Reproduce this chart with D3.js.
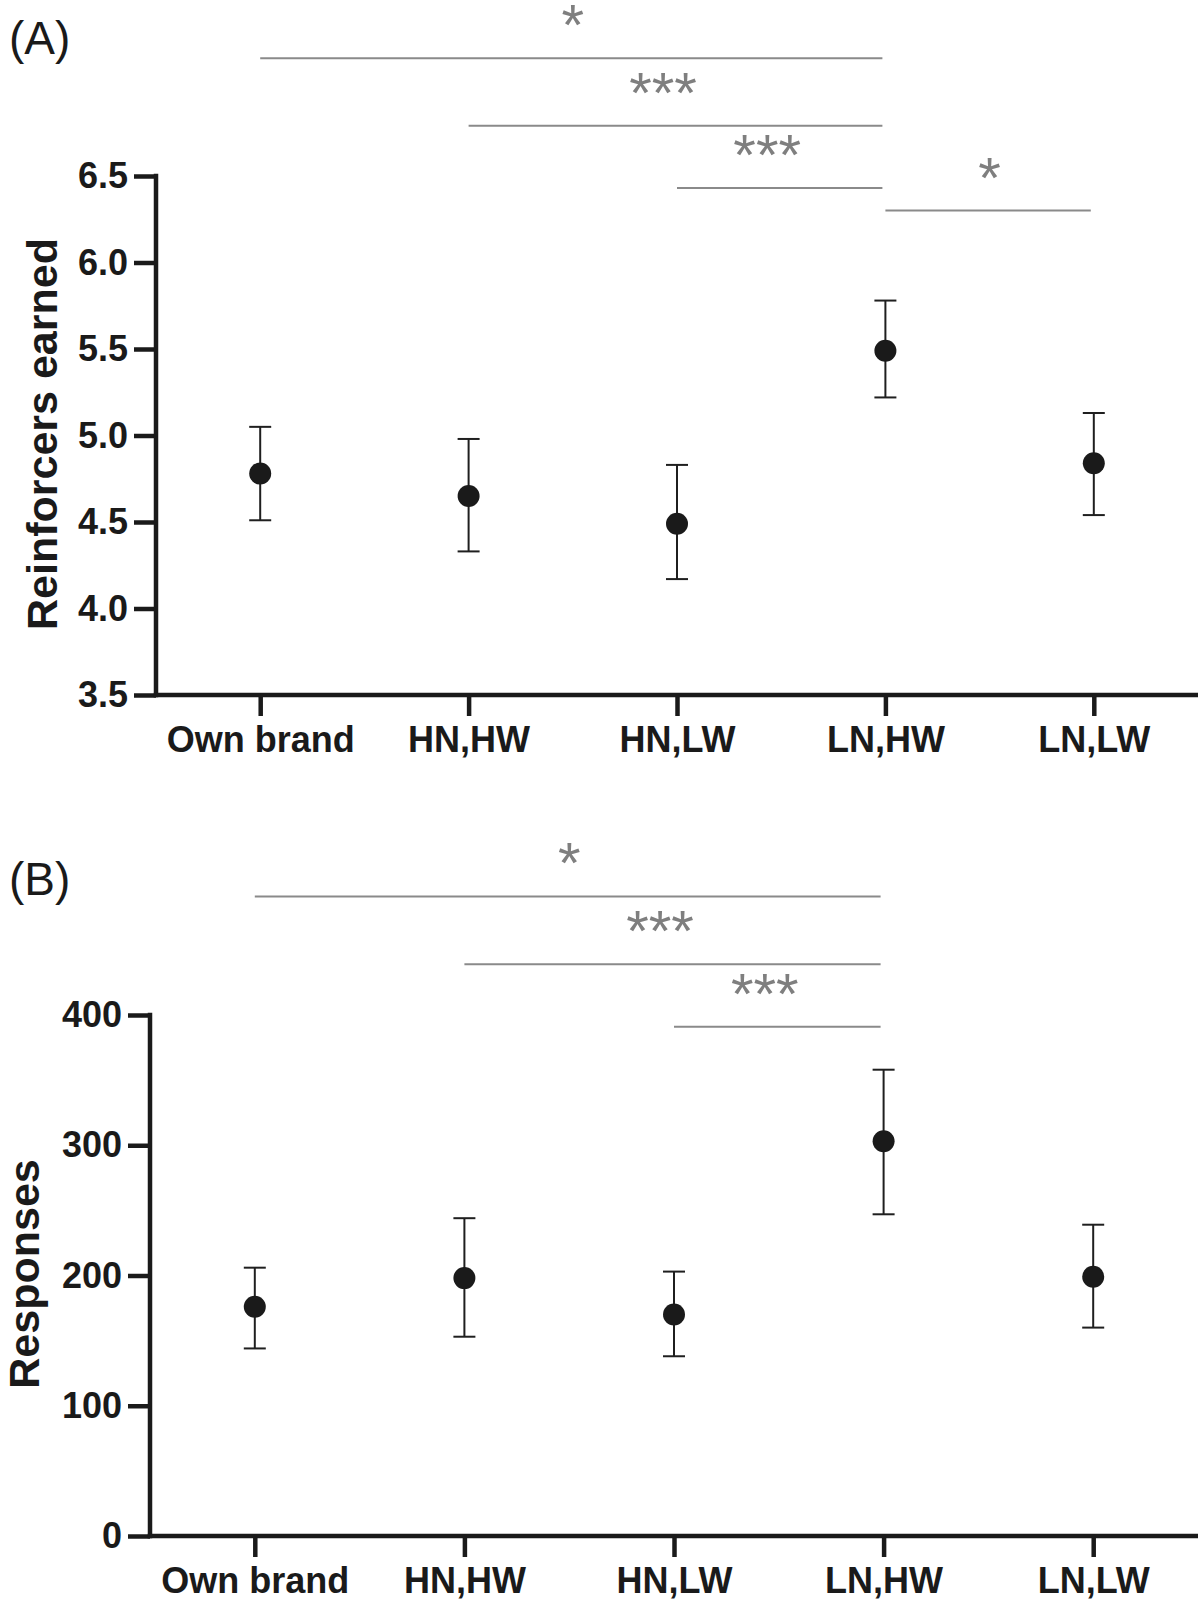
<!DOCTYPE html>
<html>
<head>
<meta charset="utf-8">
<script src="https://cdn.jsdelivr.net/npm/d3@7"></script>
<style>
  html, body { margin: 0; padding: 0; background: #fff; }
  svg { display: block; }
  .tick text { font-family: "Liberation Sans", Arial, sans-serif; font-weight: bold; font-size: 36px; fill: #1a1a1a; }
</style>
</head>
<body>
<svg id="chart" width="1200" height="1608"></svg>
<script>
// ---- Data ----
const categories = ["Own brand", "HN,HW", "HN,LW", "LN,HW", "LN,LW"];

const reinforcersMean = [4.78, 4.65, 4.49, 5.49, 4.84];
const reinforcersLow  = [4.51, 4.33, 4.17, 5.22, 4.54];
const reinforcersHigh = [5.05, 4.98, 4.83, 5.78, 5.13];
const reinforcersTicks = [3.5, 4.0, 4.5, 5.0, 5.5, 6.0, 6.5];

const responsesMean = [176, 198, 170, 303, 199];
const responsesLow  = [144, 153, 138, 247, 160];
const responsesHigh = [206, 244, 203, 358, 239];
const responsesTicks = [0, 100, 200, 300, 400];

// significance brackets: [fromIndex, toIndex], height in data units, label
const sigAPairs  = [[0, 3], [1, 3], [2, 3], [3, 4]];
const sigALevels = [7.18, 6.79, 6.43, 6.30];
const sigALabels = ["*", "***", "***", "*"];

const sigBPairs  = [[0, 3], [1, 3], [2, 3]];
const sigBLevels = [491, 439, 391];
const sigBLabels = ["*", "***", "***"];

// ---- Drawing ----
const svg = d3.select("#chart");
const FONT = '"Liberation Sans", Arial, sans-serif';

function panel(opt) {
  const g = svg.append("g");
  const x = d3.scalePoint().domain(categories).range([opt.xStart, opt.xEnd]).padding(0.5);
  const y = d3.scaleLinear().domain(opt.domain).range([opt.yBottom, opt.yTop]);

  // y axis
  const yAxis = d3.axisLeft(y).tickValues(opt.ticks).tickFormat(opt.fmt)
    .tickSize(22).tickSizeOuter(0).tickPadding(6);
  const ya = g.append("g").attr("transform", `translate(${opt.yAxisX},0)`).call(yAxis);
  ya.select(".domain").remove();
  ya.selectAll(".tick line").attr("stroke", "#1a1a1a").attr("stroke-width", 4.5);
  g.append("line")
    .attr("x1", opt.yAxisX).attr("x2", opt.yAxisX)
    .attr("y1", y(opt.domain[1]) - 2.25).attr("y2", y(opt.domain[0]) + 2.25)
    .attr("stroke", "#1a1a1a").attr("stroke-width", 4.5);

  // x axis
  const xAxis = d3.axisBottom(x).tickSize(21).tickSizeOuter(0).tickPadding(10);
  const xa = g.append("g").attr("transform", `translate(0,${opt.yBottom})`).call(xAxis);
  xa.select(".domain").remove();
  xa.selectAll(".tick line").attr("stroke", "#1a1a1a").attr("stroke-width", 4.5);
  g.append("line")
    .attr("x1", opt.yAxisX - 2.25).attr("x2", opt.xEnd)
    .attr("y1", opt.yBottom).attr("y2", opt.yBottom)
    .attr("stroke", "#1a1a1a").attr("stroke-width", 4.5);

  // error bars
  const capW = 11;
  const eb = g.append("g").attr("stroke", "#1f1f1f").attr("stroke-width", 2);
  categories.forEach((c, i) => {
    const cx = x(c);
    eb.append("line").attr("x1", cx).attr("x2", cx).attr("y1", y(opt.high[i])).attr("y2", y(opt.low[i]));
    eb.append("line").attr("x1", cx - capW).attr("x2", cx + capW).attr("y1", y(opt.high[i])).attr("y2", y(opt.high[i]));
    eb.append("line").attr("x1", cx - capW).attr("x2", cx + capW).attr("y1", y(opt.low[i])).attr("y2", y(opt.low[i]));
  });
  g.append("g").selectAll("circle").data(categories).join("circle")
    .attr("cx", d => x(d)).attr("cy", (d, i) => y(opt.mean[i])).attr("r", 11)
    .attr("fill", "#1a1a1a");

  // significance brackets
  opt.sigPairs.forEach((p, i) => {
    const x1 = x(categories[p[0]]), x2 = x(categories[p[1]]);
    const ly = y(opt.sigLevels[i]);
    g.append("line").attr("x1", x1).attr("x2", x2 - 3).attr("y1", ly).attr("y2", ly)
      .attr("stroke", "#8a8a8a").attr("stroke-width", 2);
    const lab = opt.sigLabels[i];
    g.append("text")
      .attr("x", (x1 + x2) / 2 - (lab.length - 1) * 7)
      .attr("y", ly - 13)
      .attr("text-anchor", "middle")
      .attr("font-family", FONT).attr("font-size", 58)
      .attr("fill", "#7f7f7f")
      .text(lab);
  });

  // y label
  g.append("text")
    .attr("transform", `translate(${opt.labelX},${opt.labelY}) rotate(-90)`)
    .attr("text-anchor", "middle")
    .attr("font-family", FONT).attr("font-weight", "bold").attr("font-size", 43)
    .attr("fill", "#1a1a1a")
    .text(opt.yLabel);

  // panel letter
  g.append("text")
    .attr("x", 9).attr("y", opt.letterY)
    .attr("font-family", FONT).attr("font-size", 46).attr("fill", "#1a1a1a")
    .text(opt.letter);
}

panel({
  xStart: 156, xEnd: 1198, yAxisX: 156,
  yTop: 176, yBottom: 695, domain: [3.5, 6.5],
  ticks: reinforcersTicks, fmt: d3.format(".1f"),
  mean: reinforcersMean, low: reinforcersLow, high: reinforcersHigh,
  sigPairs: sigAPairs, sigLevels: sigALevels, sigLabels: sigALabels,
  yLabel: "Reinforcers earned", labelX: 57, labelY: 434,
  letter: "(A)", letterY: 54
});

panel({
  xStart: 150, xEnd: 1198, yAxisX: 150,
  yTop: 1015, yBottom: 1536, domain: [0, 400],
  ticks: responsesTicks, fmt: d3.format("d"),
  mean: responsesMean, low: responsesLow, high: responsesHigh,
  sigPairs: sigBPairs, sigLevels: sigBLevels, sigLabels: sigBLabels,
  yLabel: "Responses", labelX: 39, labelY: 1274,
  letter: "(B)", letterY: 895
});
</script>
</body>
</html>
